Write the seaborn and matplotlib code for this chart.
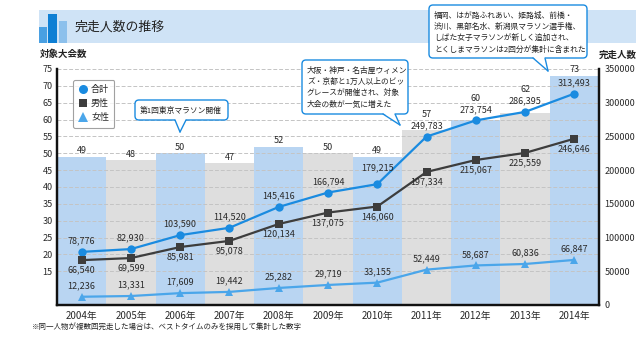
import numpy as np
import pandas as pd
import matplotlib
matplotlib.use("Agg")
import matplotlib.pyplot as plt
import seaborn as sns
from matplotlib.patches import FancyBboxPatch, Rectangle, Polygon
from matplotlib.lines import Line2D
from matplotlib.transforms import Affine2D

# ---- data -------------------------------------------------------------
years = ["2004年", "2005年", "2006年", "2007年", "2008年", "2009年",
         "2010年", "2011年", "2012年", "2013年", "2014年"]
events = [49, 48, 50, 47, 52, 50, 49, 57, 60, 62, 73]
total = [78776, 82930, 103590, 114520, 145416, 166794, 179215,
         249783, 273754, 286395, 313493]
male = [66540, 69599, 85981, 95078, 120134, 137075, 146060,
        197334, 215067, 225559, 246646]
female = [12236, 13331, 17609, 19442, 25282, 29719, 33155,
          52449, 58687, 60836, 66847]
left_ticks = [15, 20, 25, 30, 35, 40, 45, 50, 55, 60, 65, 70, 75]
right_ticks = [0, 50000, 100000, 150000, 200000, 250000, 300000, 350000]

# ---- style ------------------------------------------------------------
sns.set_theme(style="white")
plt.rcParams["font.family"] = ["Noto Sans CJK JP", "DejaVu Sans"]

W, H = 643, 348
DPI = 100
C_TOTAL = "#1a8be0"
C_MALE = "#3d3d3d"
C_FEMALE = "#4ba6ea"
C_BAR_BLUE = "#b9d5f2"
C_BAR_GRAY = "#dedede"
C_TEXT = "#2a2a2a"

fig = plt.figure(figsize=(W / DPI, H / DPI), dpi=DPI)
fig.patch.set_facecolor("white")
# top-left pixel coordinates -> display
PX = Affine2D().scale(1, -1).translate(0, H)

ax = fig.add_axes([57 / W, 1 - 305 / H, (599 - 57) / W, (305 - 69) / H])
ax.set_facecolor("white")

df = pd.DataFrame({"year": years, "events": events,
                   "total": total, "male": male, "female": female})
df["pos"] = np.arange(len(df))

bar_colors = [C_BAR_BLUE if i % 2 == 0 else C_BAR_GRAY for i in range(len(df))]
sns.barplot(data=df, x="year", y="events", hue="year", palette=bar_colors,
            width=1.0, legend=False, ax=ax, saturation=1, linewidth=0)
ax.set_xlim(-0.5, len(df) - 0.5)
ax.set_ylim(5, 75)
ax.set_yticks(left_ticks)
ax.set_xlabel("")
ax.set_ylabel("")
ax.tick_params(axis="both", length=0, labelsize=6.5, colors=C_TEXT, pad=3)
ax.tick_params(axis="x", labelsize=7, pad=4)

ax2 = ax.twinx()
ax2.set_ylim(0, 350000)
ax2.set_yticks(right_ticks)
ax2.tick_params(axis="y", length=0, labelsize=6.5, colors=C_TEXT, pad=4)
ax2.set_ylabel("")

# dashed grid above the bars
for t in left_ticks:
    ax.axhline(t, color="#c4c4c4", lw=0.7, ls=(0, (4, 2)), zorder=2)

sns.lineplot(data=df, x="pos", y="total", ax=ax2, color=C_TOTAL, lw=1.6,
             marker="o", markersize=6, markeredgewidth=0, zorder=5)
sns.lineplot(data=df, x="pos", y="male", ax=ax2, color=C_MALE, lw=1.6,
             marker="s", markersize=5.5, markeredgewidth=0, zorder=5)
sns.lineplot(data=df, x="pos", y="female", ax=ax2, color=C_FEMALE, lw=1.6,
             marker="^", markersize=6, markeredgewidth=0, zorder=5)
ax2.set_xlim(-0.5, len(df) - 0.5)
ax2.set_ylabel("")
ax2.set_xlabel("")

for a in (ax, ax2):
    for s in ("left", "right", "bottom"):
        a.spines[s].set_visible(True)
        a.spines[s].set_color("#111111")
        a.spines[s].set_linewidth(1.6)
    a.spines["top"].set_visible(False)

# ---- value labels -------------------------------------------------------
def pts(px):
    return px * 72.0 / DPI

lab_fs = 6.5
for i in range(len(df)):
    y_pt = ax2.transData.transform((i, total[i]))[1]
    extra = 16 if i == 6 else 11
    y_tot_lab = y_pt + extra
    ax2.annotate(f"{total[i]:,}", (i, total[i]), xytext=(0, pts(extra)),
                 textcoords="offset points", ha="center", va="center",
                 fontsize=lab_fs, color=C_TEXT, zorder=6)
    ax2.annotate(f"{male[i]:,}", (i, male[i]), xytext=(0, -pts(10)),
                 textcoords="offset points", ha="center", va="center",
                 fontsize=lab_fs, color=C_TEXT, zorder=6)
    ax2.annotate(f"{female[i]:,}", (i, female[i]), xytext=(0, pts(11)),
                 textcoords="offset points", ha="center", va="center",
                 fontsize=lab_fs, color=C_TEXT, zorder=6)
    bar_top = ax.transData.transform((i, events[i]))[1]
    lab_y = max(bar_top + 6, y_tot_lab + 11)
    ax.annotate(f"{events[i]}", (i, events[i]), xytext=(0, pts(lab_y - bar_top)),
                textcoords="offset points", ha="center", va="center",
                fontsize=lab_fs, color=C_TEXT, zorder=6, annotation_clip=False)

# ---- legend -------------------------------------------------------------
handles = [
    Line2D([], [], ls="none", marker="o", color=C_TOTAL, markersize=6.5, mew=0),
    Line2D([], [], ls="none", marker="s", color=C_MALE, markersize=6, mew=0),
    Line2D([], [], ls="none", marker="^", color=C_FEMALE, markersize=6.5, mew=0),
]
leg = ax2.legend(handles, ["合計", "男性", "女性"], loc="upper left",
                 bbox_to_anchor=(73 / W, 1 - 80 / H),
                 bbox_transform=fig.transFigure, fontsize=6.5, frameon=True,
                 fancybox=True, handlelength=1.0, handletextpad=0.4,
                 labelspacing=0.55, borderpad=0.6, borderaxespad=0)
leg.get_frame().set_edgecolor("#8a8a8a")
leg.get_frame().set_linewidth(0.8)
leg.set_zorder(10)
for t in leg.get_texts():
    t.set_color(C_TEXT)

# ---- header -------------------------------------------------------------
fig.patches.append(Rectangle((39, 10), 597, 33, transform=PX,
                             facecolor="#cfe3f6", edgecolor="none", zorder=0))
for x0, x1, top, c in [(39, 46.5, 27, "#4aa0e2"), (48, 57, 14, "#0e7fd4"),
                       (59, 67, 21, "#8cc0ec")]:
    fig.patches.append(Rectangle((x0, top), x1 - x0, 43 - top, transform=PX,
                                 facecolor=c, edgecolor="none", zorder=1))
fig.text(75, 27, "完走人数の推移", transform=PX, fontsize=9.3, color="#222222",
         va="center", ha="left")
fig.text(40, 54, "対象大会数", transform=PX, fontsize=6.8, color="#222222",
         va="center", ha="left", fontweight="bold")
fig.text(599, 55, "完走人数", transform=PX, fontsize=6.8, color="#222222",
         va="center", ha="left", fontweight="bold")
fig.text(32, 327, "※同一人物が複数回完走した場合は、ベストタイムのみを採用して集計した数字",
         transform=PX, fontsize=5.4, color="#222222", va="center", ha="left")

# ---- callouts -----------------------------------------------------------
def callout(x0, y0, x1, y1, base_l, base_r, tip, lines, line_y, tx, fs):
    box = FancyBboxPatch((x0, y0), x1 - x0, y1 - y0, transform=PX,
                         boxstyle="round,pad=0,rounding_size=4",
                         facecolor="white", edgecolor=C_TOTAL, lw=1.0, zorder=20)
    fig.patches.append(box)
    tri = Polygon([(base_l, y1 - 1), (base_r, y1 - 1), tip], closed=True,
                  transform=PX, facecolor="white", edgecolor="none", zorder=21)
    fig.patches.append(tri)
    for p in ((base_l, y1), (base_r, y1)):
        fig.lines.append(Line2D([p[0], tip[0]], [p[1], tip[1]], transform=PX,
                                color=C_TOTAL, lw=1.0, zorder=22))
    for txt, yy in zip(lines, line_y):
        fig.text(tx, yy, txt, transform=PX, fontsize=fs, color="#222222",
                 va="center", ha="left", zorder=23)

callout(135, 100, 228, 120, 175, 186, (180, 132),
        ["第1回東京マラソン開催"], [110.5], 140, 5.6)
callout(302, 60, 408, 114, 383, 395, (400, 125),
        ["大阪・神戸・名古屋ウィメン", "ズ・京都と1万人以上のビッ",
         "グレースが開催され、対象", "大会の数が一気に増えた"],
        [71, 82, 93, 104.5], 307, 5.6)
callout(429, 5, 587, 58, 533, 545, (548, 71),
        ["福岡、はが路ふれあい、姫路城、前橋・", "渋川、黒部名水、新潟県マラソン選手権、",
         "しばた女子マラソンが新しく追加され、", "とくしまマラソンは2回分が集計に含まれた"],
        [16, 27, 38, 49.5], 434, 5.6)

fig.savefig("out.png", dpi=DPI)
